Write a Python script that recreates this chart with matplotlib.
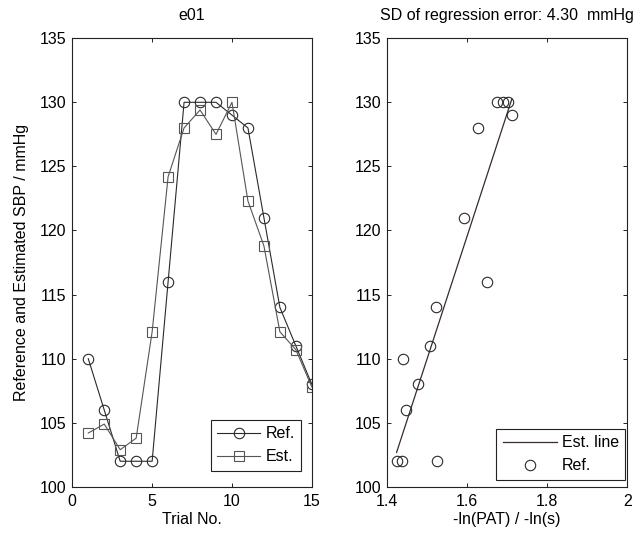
import matplotlib
matplotlib.use("Agg")
import matplotlib.pyplot as plt
import numpy as np

plt.rcParams['font.family'] = ['Liberation Sans', 'DejaVu Sans']
plt.rcParams['font.size'] = 11.5

# trial numbers and SBP values (mmHg)
trial = np.arange(1, 16)
ref_sbp = [110, 106, 102, 102, 102, 116, 130, 130, 130, 129, 128, 121, 114, 111, 108]
est_sbp = [104.2, 104.9, 102.9, 103.8, 112.1, 124.2, 128.0, 129.4, 127.5, 130.0,
           122.3, 118.8, 112.1, 110.7, 107.8]
# -ln(PAT) / -ln(s) for each trial
neg_ln_pat = [1.439, 1.447, 1.424, 1.437, 1.526, 1.651, 1.674, 1.689, 1.703, 1.712,
              1.628, 1.593, 1.523, 1.508, 1.478]
sd_err = 4.30

fig = plt.figure(figsize=(6.37, 5.38), dpi=100)
ax1 = fig.add_axes([0.1135, 0.095, 0.376, 0.834])
ax2 = fig.add_axes([0.6075, 0.095, 0.377, 0.834])

lc = "#2a2a2a"
ax1.plot(trial, ref_sbp, color=lc, lw=0.8, marker="o", ms=7.5, mfc="none",
         mec=lc, mew=0.8, label="Ref.")
ax1.plot(trial, est_sbp, color="#555555", lw=0.8, marker="s", ms=7.5, mfc="none",
         mec="#555555", mew=0.8, label="Est.")
ax1.set_xlim(0, 15)
ax1.set_ylim(100, 135)
ax1.set_xticks([0, 5, 10, 15])
ax1.set_yticks(np.arange(100, 136, 5))
ax1.set_title("e01", fontsize=11.5, pad=13)
ax1.set_xlabel("Trial No.", labelpad=2)
ax1.set_ylabel("Reference and Estimated SBP / mmHg", labelpad=8)
leg1 = ax1.legend(loc="lower right", bbox_to_anchor=(0.955, 0.036), fancybox=False,
                  edgecolor="#222222", framealpha=1, handlelength=2.7,
                  borderaxespad=0, handletextpad=0.3, fontsize=11.5)
leg1.get_frame().set_linewidth(0.8)

# regression line of estimated SBP against -ln(PAT)
x = np.array(neg_ln_pat)
b, a = np.polyfit(x, est_sbp, 1)
xl = np.array([x.min(), x.max()])
ax2.plot(xl, a + b * xl, color="#3a2a2a", lw=0.9, label="Est. line")
ax2.plot(x, ref_sbp, ls="none", marker="o", ms=7.5, mfc="none", mec=lc,
         mew=0.8, label="Ref.")
ax2.set_xlim(1.4, 2.0)
ax2.set_ylim(100, 135)
ax2.set_xticks([1.4, 1.6, 1.8, 2.0])
ax2.set_xticklabels(["1.4", "1.6", "1.8", "2"])
ax2.set_yticks(np.arange(100, 136, 5))
ax2.set_title("SD of regression error: %.2f  mmHg" % sd_err, fontsize=11.5, pad=13)
ax2.set_xlabel("-ln(PAT) / -ln(s)", labelpad=2)
leg2 = ax2.legend(loc="lower right", bbox_to_anchor=(0.992, 0.016), fancybox=False,
                  edgecolor="#222222", framealpha=1, handlelength=3.4,
                  borderaxespad=0, handletextpad=0.3, fontsize=11.5)
leg2.get_frame().set_linewidth(0.8)

for ax in (ax1, ax2):
    ax.tick_params(direction="in", top=True, right=True, length=3, width=0.6,
                   labelsize=11.5)
    ax.tick_params(axis="x", pad=5)
    ax.tick_params(axis="y", pad=4)
    for s in ax.spines.values():
        s.set_linewidth(0.8)
        s.set_color("#222222")

fig.savefig("out.png", dpi=100)
